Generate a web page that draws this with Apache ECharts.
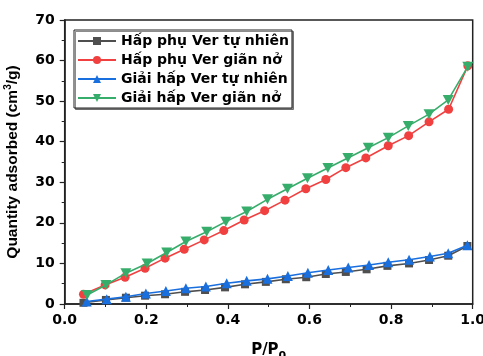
<!DOCTYPE html>
<html>
<head>
<meta charset="utf-8">
<script src="https://cdn.jsdelivr.net/npm/echarts@6/dist/echarts.min.js"></script>
<style>
  html, body { margin: 0; padding: 0; background: #fff; }
  #chart { width: 483px; height: 356px; }
</style>
</head>
<body>
<div id="chart"></div>
<script>
// Relative pressure (P/P0) and adsorbed quantity (cm3/g) for each isotherm branch
const seriesNames = [
  'Hấp phụ Ver tự nhiên',
  'Hấp phụ Ver giãn nở',
  'Giải hấp Ver tự nhiên',
  'Giải hấp Ver giãn nở'
];

const adsNaturalX = [0.046, 0.101, 0.150, 0.197, 0.246, 0.295, 0.344, 0.393, 0.442, 0.493, 0.542, 0.592, 0.640, 0.689, 0.740, 0.791, 0.844, 0.893, 0.940, 0.987];
const adsNaturalY = [0.3, 1.0, 1.55, 2.05, 2.4, 3.0, 3.45, 4.1, 4.85, 5.45, 6.1, 6.6, 7.4, 7.9, 8.55, 9.4, 10.0, 10.85, 11.9, 14.3];

const adsExpandedX = [0.046, 0.099, 0.148, 0.197, 0.246, 0.293, 0.342, 0.390, 0.440, 0.490, 0.540, 0.591, 0.640, 0.689, 0.738, 0.793, 0.843, 0.893, 0.941, 0.988];
const adsExpandedY = [2.4, 4.7, 6.6, 8.8, 11.3, 13.5, 15.8, 18.1, 20.7, 23.0, 25.6, 28.4, 30.7, 33.6, 36.0, 39.0, 41.5, 44.9, 48.0, 58.7];

const desNaturalX = [0.054, 0.103, 0.150, 0.199, 0.248, 0.297, 0.346, 0.397, 0.446, 0.497, 0.547, 0.596, 0.646, 0.695, 0.746, 0.793, 0.844, 0.895, 0.940, 0.987];
const desNaturalY = [0.6, 1.2, 1.8, 2.6, 3.2, 3.9, 4.3, 5.1, 5.7, 6.2, 6.9, 7.7, 8.4, 9.0, 9.6, 10.3, 10.9, 11.7, 12.5, 14.5];

const desExpandedX = [0.055, 0.101, 0.150, 0.202, 0.250, 0.297, 0.348, 0.395, 0.446, 0.497, 0.546, 0.595, 0.645, 0.694, 0.744, 0.793, 0.842, 0.893, 0.940, 0.988];
const desExpandedY = [2.2, 4.7, 7.6, 10.0, 12.7, 15.4, 17.8, 20.3, 22.8, 25.8, 28.4, 31.0, 33.5, 36.0, 38.5, 41.0, 43.9, 46.8, 50.3, 58.5];

const colors = ['#4f4f4f', '#f14040', '#1a6fdf', '#37ad6b'];
const symbols = ['rect', 'circle', 'triangle', 'path://M0,0 L10,0 L5,9 Z'];
const symbolSizes = [8, 9, 10, [11, 10]];

const pairs = (xs, ys) => xs.map((x, i) => [x, ys[i]]);
const seriesData = [
  pairs(adsNaturalX, adsNaturalY),
  pairs(adsExpandedX, adsExpandedY),
  pairs(desNaturalX, desNaturalY),
  pairs(desExpandedX, desExpandedY)
];

const labelFont = { fontFamily: 'DejaVu Sans', fontWeight: 'bold', fontSize: 14, color: '#000' };

const chart = echarts.init(document.getElementById('chart'), null, { renderer: 'canvas' });

chart.setOption({
  backgroundColor: '#fff',
  animation: false,
  grid: {
    left: 64.7, right: 10.3, top: 20, bottom: 52,
    containLabel: false,
    outerBoundsMode: 'none',
    show: true, borderColor: '#222', borderWidth: 1.5, backgroundColor: 'transparent'
  },
  legend: {
    orient: 'vertical',
    left: 74, top: 30,
    padding: [4, 3, 3, 3],
    itemWidth: 38, itemHeight: 10, itemGap: 5,
    backgroundColor: '#fff',
    borderColor: '#222', borderWidth: 1,
    shadowColor: 'rgba(0,0,0,0.45)', shadowOffsetX: 1.5, shadowOffsetY: 1.5, shadowBlur: 0,
    textStyle: Object.assign({}, labelFont, { lineHeight: 14 }),
    data: seriesNames
  },
  xAxis: {
    type: 'value', min: 0, max: 1, interval: 0.2,
    name: 'P/P{sub|0}',
    nameLocation: 'middle', nameGap: 35,
    nameTextStyle: {
      fontFamily: 'DejaVu Sans', fontWeight: 'bold', fontSize: 15, color: '#000',
      rich: { sub: { fontFamily: 'DejaVu Sans', fontWeight: 'bold', fontSize: 11, color: '#000', verticalAlign: 'bottom', padding: [12, 0, 0, 0] } }
    },
    axisLine: { show: true, onZero: false, lineStyle: { color: '#222', width: 1.5 } },
    axisTick: { show: true, inside: false, length: 5, lineStyle: { color: '#222', width: 1.2 } },
    minorTick: { show: true, splitNumber: 2, length: 3, lineStyle: { color: '#222', width: 1 } },
    splitLine: { show: false },
    axisLabel: Object.assign({}, labelFont, { margin: 9, formatter: v => v.toFixed(1) })
  },
  yAxis: {
    type: 'value', min: 0, max: 70, interval: 10,
    name: 'Quantity adsorbed (cm{sup|3}/g)',
    nameLocation: 'middle', nameGap: 43, nameRotate: 90,
    nameTextStyle: {
      fontFamily: 'Liberation Sans', fontWeight: 'bold', fontSize: 15.5, color: '#000',
      rich: { sup: { fontFamily: 'Liberation Sans', fontWeight: 'bold', fontSize: 10, color: '#000', verticalAlign: 'top', padding: [0, 0, 8, 0] } }
    },
    axisLine: { show: true, onZero: false, lineStyle: { color: '#222', width: 1.5 } },
    axisTick: { show: true, inside: false, length: 5, lineStyle: { color: '#222', width: 1.2 } },
    minorTick: { show: true, splitNumber: 2, length: 3, lineStyle: { color: '#222', width: 1 } },
    splitLine: { show: false },
    axisLabel: Object.assign({}, labelFont, { margin: 10 })
  },
  series: seriesNames.map((name, i) => ({
    name: name,
    type: 'line',
    data: seriesData[i],
    symbol: symbols[i],
    symbolSize: symbolSizes[i],
    showAllSymbol: true,
    lineStyle: { color: colors[i], width: 1.6 },
    itemStyle: { color: colors[i] },
    emphasis: { disabled: true },
    z: 2 + i
  }))
});
</script>
</body>
</html>
